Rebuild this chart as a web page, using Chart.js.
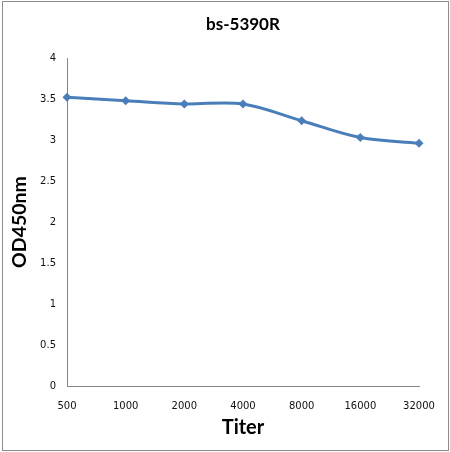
<!DOCTYPE html>
<html>
<head>
<meta charset="utf-8">
<script src="https://cdn.jsdelivr.net/npm/chart.js@4"></script>
<style>
  html, body { margin: 0; padding: 0; background: #fff; }
  #wrap { position: relative; width: 450px; height: 452px; }
  #frame { position: absolute; left: 2px; top: 1px; width: 445px; height: 448px; border: 1px solid #8c8c8c; pointer-events: none; }
  canvas { position: absolute; left: 0; top: 0; }
</style>
</head>
<body>
<div id="wrap">
  <canvas id="myChart" width="450" height="452"></canvas>
  <div id="frame"></div>
</div>
<script>
var titers = ['500', '1000', '2000', '4000', '8000', '16000', '32000'];
var odValues = [3.52, 3.48, 3.44, 3.44, 3.235, 3.03, 2.96];
var yTickLabels = ['0', '0.5', '1', '1.5', '2', '2.5', '3', '3.5', '4'];

var blue = '#4a7ebb';
var axisGray = '#868686';
var tickFont = { family: 'DejaVu Sans', size: 10 };

function createChart() {
  var ctx = document.getElementById('myChart').getContext('2d');
  new Chart(ctx, {
    type: 'line',
    data: {
      labels: titers,
      datasets: [{
        data: odValues,
        borderColor: blue,
        backgroundColor: blue,
        borderWidth: 3,
        tension: 0.35,
        pointStyle: 'rectRot',
        pointRadius: 4.5,
        pointHoverRadius: 4.5,
        pointBorderWidth: 0,
        clip: false
      }]
    },
    options: {
      responsive: false,
      animation: false,
      layout: { padding: { top: 0, right: 31, bottom: 0, left: 0 } },
      plugins: {
        legend: { display: false },
        tooltip: { enabled: false },
        title: {
          display: true,
          text: 'bs-5390R',
          fullSize: false,
          color: '#000',
          font: { family: 'Lato', size: 17, weight: 'bold' },
          padding: { top: 14.8, bottom: 22.8 }
        }
      },
      scales: {
        x: {
          offset: false,
          grid: { display: false, drawTicks: false },
          border: { color: axisGray, width: 1 },
          ticks: { color: '#111', font: tickFont, padding: 14, maxRotation: 0, autoSkip: false },
          title: {
            display: true,
            text: 'Titer',
            color: '#000',
            font: { family: 'Lato', size: 20, weight: 'bold' },
            padding: { top: 0, bottom: 12.4 }
          },
          afterFit: function (scale) { scale.height = 66; }
        },
        y: {
          min: 0,
          max: 4,
          grid: { display: false, drawTicks: false },
          border: { color: axisGray, width: 1 },
          ticks: {
            stepSize: 0.5,
            color: '#111',
            font: tickFont,
            padding: 11,
            callback: function (value, index) { return yTickLabels[index]; }
          },
          title: {
            display: true,
            text: 'OD450nm',
            color: '#000',
            font: { family: 'Lato', size: 19.5, weight: 'bold' },
            padding: { top: 8, bottom: 0 }
          },
          afterFit: function (scale) { scale.width = 67; }
        }
      }
    }
  });
}

createChart();
</script>
</body>
</html>
